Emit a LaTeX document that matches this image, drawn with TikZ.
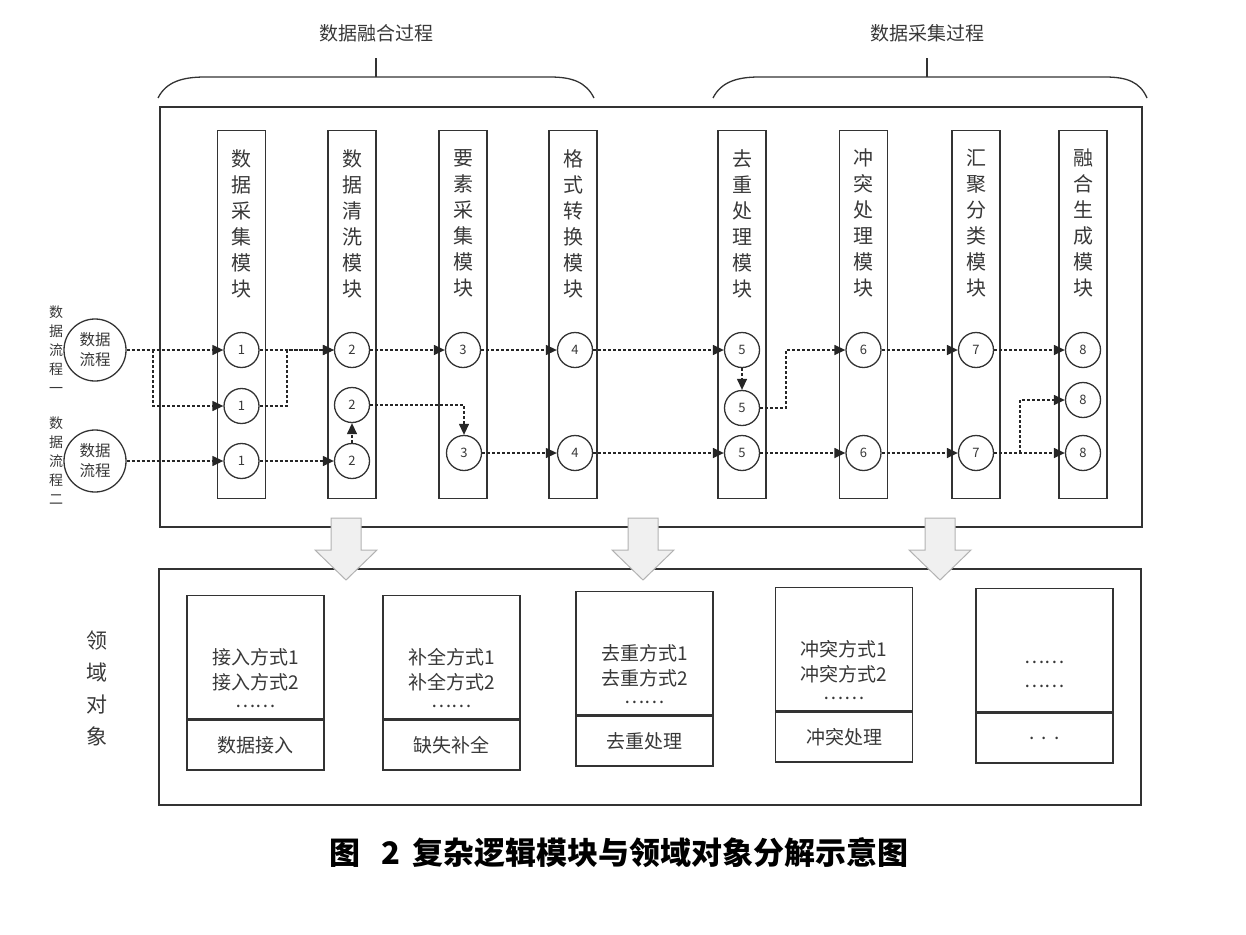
\documentclass[tikz,border=0pt]{standalone}
\usepackage{fontspec}
\setmainfont{Noto Sans CJK SC}
\usepackage{tikz}
\usetikzlibrary{arrows.meta,positioning,calc}

\begin{document}
\begin{tikzpicture}[x=1pt, y=-1pt, >={Triangle[length=11pt,width=10pt]},
        every node/.style={text=black!78},
        modbox/.style={draw=black!80, line width=1.4pt, minimum width=48pt, minimum height=368pt, inner sep=0pt, anchor=north},
        modtxt/.style={font=\fontsize{20}{26}\selectfont, align=center, inner sep=0pt, anchor=north},
        dot/.style={circle, draw=black!80, line width=1.3pt, minimum size=35pt, inner sep=0pt, font=\fontsize{13}{13}\selectfont},
        flowc/.style={circle, draw=black!80, line width=1.3pt, minimum size=62pt, inner sep=0pt, align=center, font=\fontsize{15.5}{20}\selectfont},
        flow/.style={->, line width=1.3pt, black!85, dash pattern=on 3pt off 2pt},
        objbox/.style={draw=black!80, line width=1.4pt, minimum width=137pt, inner sep=0pt, anchor=north},
        objtxt/.style={font=\fontsize{19}{24}\selectfont, inner sep=0pt},
        bigarrow/.style={fill=gray!12, draw=gray!60, line width=1pt}]
        \useasboundingbox (0,0) rectangle (1246,934);

        % process braces
        \node[font=\fontsize{19}{19}\selectfont] (fuse) at (376,33) {数据融合过程};
        \node[font=\fontsize{19}{19}\selectfont] (coll) at (927,33) {数据采集过程};
        \draw[line width=1.3pt, black!80] (158,98) .. controls (166,82) and (182,77) .. (205,77) -- (550,77) .. controls (572,77) and (586,82) .. (594,98);
        \draw[line width=1.3pt, black!80] (376,77) -- (376,58);
        \draw[line width=1.3pt, black!80] (713,98) .. controls (721,82) and (737,77) .. (759,77) -- (1105,77) .. controls (1127,77) and (1140,82) .. (1147,98);
        \draw[line width=1.3pt, black!80] (927,77) -- (927,58);

        % outer frames
        \draw[line width=1.4pt, black!80] (160,107) rectangle (1142,527);
        \draw[line width=1.4pt, black!80] (159,569) rectangle (1141,805);

        % module columns
        \foreach \x/\t [count=\i] in {241.5/数\\据\\采\\集\\模\\块, 352/数\\据\\清\\洗\\模\\块,
                463/要\\素\\采\\集\\模\\块, 573/格\\式\\转\\换\\模\\块, 742/去\\重\\处\\理\\模\\块,
                863.5/冲\\突\\处\\理\\模\\块, 976/汇\\聚\\分\\类\\模\\块, 1083/融\\合\\生\\成\\模\\块} {
            \node[modbox] (m\i) at (\x,130) {};
            \node[modtxt] (t\i) at (\x,149) {\t};
        }

        % step circles
        \foreach \n/\x/\y/\l in {c1a/241.5/350/1, c1b/241.5/406/1, c1c/241.5/461/1,
                c2a/352/350/2, c2b/352/405/2, c2c/352/461/2,
                c3a/463/350/3, c3b/464/453/3, c4a/575/350/4, c4b/575/453/4,
                c5a/742/350/5, c5b/742/408/5, c5c/742/453/5,
                c6a/863.5/350/6, c6b/863.5/453/6, c7a/976/350/7, c7b/976/453/7,
                c8a/1083/350/8, c8b/1083/400/8, c8c/1083/453/8} {
            \node[dot] (\n) at (\x,\y) {\l};
        }

        % data flows
        \node[flowc] (f1) at (95,350) {数据\\流程};
        \node[flowc] (f2) at (95,461) {数据\\流程};
        \node[font=\fontsize{14}{19}\selectfont, align=center, inner sep=0pt, left=0pt of f1] (s1) {数\\据\\流\\程\\一};
        \node[font=\fontsize{14}{19}\selectfont, align=center, inner sep=0pt, left=0pt of f2] (s2) {数\\据\\流\\程\\二};

        % connectors
        \coordinate (b1) at (153,350);
        \coordinate (b2) at (287,406);
        \coordinate (b3) at (786,408);
        \coordinate (b4) at (1020,453);
        \draw[flow] (f1.east) -- (c1a.west);
        \draw[flow] (b1) |- (c1b.west);
        \draw[flow] (f2.east) -- (c1c.west);
        \draw[flow] (c1a.east) -- (c2a.west);
        \draw[flow] (c1b.east) -- (b2) |- (c2a.west);
        \draw[flow] (c1c.east) -- (c2c.west);
        \draw[flow] (c2c.north) -- (c2b.south);
        \draw[flow] (c2a.east) -- (c3a.west);
        \draw[flow] (c2b.east) -| (c3b.north);
        \draw[flow] (c3a.east) -- (c4a.west);
        \draw[flow] (c3b.east) -- (c4b.west);
        \draw[flow] (c4a.east) -- (c5a.west);
        \draw[flow] (c4b.east) -- (c5c.west);
        \draw[flow] (c5a.south) -- (c5b.north);
        \draw[flow] (c5b.east) -- (b3) |- (c6a.west);
        \draw[flow] (c5c.east) -- (c6b.west);
        \draw[flow] (c6a.east) -- (c7a.west);
        \draw[flow] (c6b.east) -- (c7b.west);
        \draw[flow] (c7a.east) -- (c8a.west);
        \draw[flow] (c7b.east) -- (c8c.west);
        \draw[flow] (b4) |- (c8b.west);

        % domain objects
        \node[font=\fontsize{21}{32}\selectfont, align=center, inner sep=0pt] (dom) at (97,688) {领\\域\\对\\象};
        \foreach \n/\x/\y/\a/\b/\c in {o1/255.5/595/接入方式1/接入方式2/数据接入, o2/451.5/595/补全方式1/补全方式2/缺失补全,
                o3/644.5/591/去重方式1/去重方式2/去重处理, o4/844/587/冲突方式1/冲突方式2/冲突处理} {
            \node[objbox, minimum height=123pt] (\n) at (\x,\y) {};
            \node[objbox, minimum height=50pt] (\n-lo) at (\n.south) {};
            \node[objtxt] (\n-1) at ($(\n.north)+(0,62)$) {\a};
            \node[objtxt] (\n-2) at ($(\n.north)+(0,87)$) {\b};
            \node[objtxt] (\n-3) at ($(\n.north)+(0,111)$) {……};
            \node[objtxt] (\n-lbl) at (\n-lo) {\c};
        }
        \node[objbox, minimum height=123pt] (o5) at (1044.5,588) {};
        \node[objbox, minimum height=50pt] (o5-lo) at (o5.south) {};
        \node[objtxt] (o5-1) at ($(o5.north)+(0,74)$) {……};
        \node[objtxt] (o5-2) at ($(o5.north)+(0,98)$) {……};
        \node[objtxt] (o5-lbl) at (o5-lo) {.\hspace{7pt}.\hspace{7pt}.};

        % down arrows
        \foreach \x in {346,643,940} {
            \filldraw[bigarrow] (\x-15,518) -- (\x+15,518) -- (\x+15,550) -- (\x+31,550) -- (\x,580) -- (\x-31,550) -- (\x-15,550) -- cycle;
        }

        % caption
        \node[font=\fontsize{31}{31}\selectfont\bfseries, text=black] (cap) at (619,853) {图\hspace{0.7em}2\hspace{0.4em}复杂逻辑模块与领域对象分解示意图};
    \end{tikzpicture}
\end{document}
